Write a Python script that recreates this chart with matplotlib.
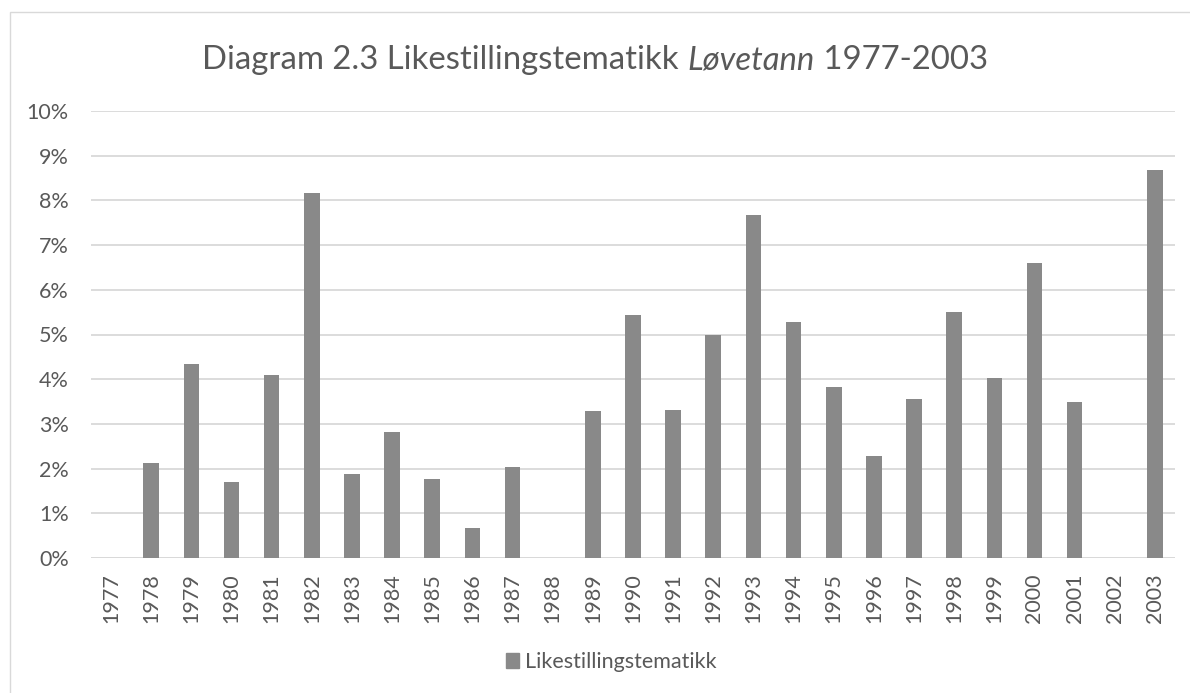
import matplotlib
matplotlib.use("Agg")
import matplotlib.pyplot as plt
from matplotlib.offsetbox import TextArea, HPacker, AnchoredOffsetbox
from matplotlib.patches import Rectangle, Patch
from matplotlib.ticker import FuncFormatter, MultipleLocator

years = [str(y) for y in range(1977, 2004)]
values = [0.0, 2.12, 4.34, 1.71, 4.10, 8.17, 1.89, 2.82, 1.77, 0.67, 2.04, 0.0, 3.29,
          5.44, 3.32, 4.99, 7.68, 5.29, 3.82, 2.28, 3.55, 5.51, 4.03, 6.59, 3.49, 0.0, 8.69]
series_name = "Likestillingstematikk"
title_parts = ["Diagram 2.3 Likestillingstematikk ", "Løvetann", " 1977-2003"]

FONT = "Lato"
TXT = "#595959"
BAR = "#898989"
GRID = "#d9d9d9"

plt.rcParams['font.family'] = [FONT, 'DejaVu Sans']

fig = plt.figure(figsize=(11.9, 6.93), dpi=100)
fig.patches.append(Rectangle((10/1190, -0.1), 1.2, 1.1 - 12/693, transform=fig.transFigure,
                             fill=False, edgecolor=GRID, linewidth=1.0))

ax = fig.add_axes([91/1190, 1 - 558/693, (1175 - 91)/1190, (558 - 111)/693])
x = list(range(len(years)))
ax.bar(x, values, width=0.39, color=BAR, zorder=3, label=series_name)
ax.set_xlim(-0.5, len(years) - 0.5)
ax.set_ylim(0, 10)
ax.yaxis.set_major_locator(MultipleLocator(1))
ax.yaxis.set_major_formatter(FuncFormatter(lambda v, p: f"{int(round(v))}%"))
ax.set_xticks(x)
ax.set_xticklabels(years, rotation=90)
ax.grid(axis='y', color=GRID, linewidth=1.3, zorder=0)
for s in ax.spines.values():
    s.set_visible(False)
ax.tick_params(axis='both', length=0, labelsize=15.5, colors=TXT)
ax.tick_params(axis='y', pad=16)
ax.tick_params(axis='x', pad=11)
ax.axhline(0, color=GRID, linewidth=1.3, zorder=2)

fs = 23.7
boxes = [TextArea(title_parts[0], textprops=dict(fontsize=fs, color=TXT)),
         TextArea(title_parts[1], textprops=dict(fontsize=fs, color=TXT, style='italic')),
         TextArea(title_parts[2], textprops=dict(fontsize=fs, color=TXT))]
pack = HPacker(children=boxes, align="baseline", pad=0, sep=0)
anch = AnchoredOffsetbox(loc='center', child=pack, frameon=False,
                         bbox_to_anchor=(595/1190, 1 - 60/693), bbox_transform=fig.transFigure,
                         borderpad=0, pad=0)
fig.add_artist(anch)

handle = Patch(facecolor=BAR, edgecolor=BAR)
fig.legend([handle], [series_name], loc='center', bbox_to_anchor=(611/1190, 1 - 662/693),
           frameon=False, fontsize=15.5, labelcolor=TXT, handlelength=0.65, handleheight=0.65,
           handletextpad=0.25)

fig.savefig("out.png", dpi=100)
